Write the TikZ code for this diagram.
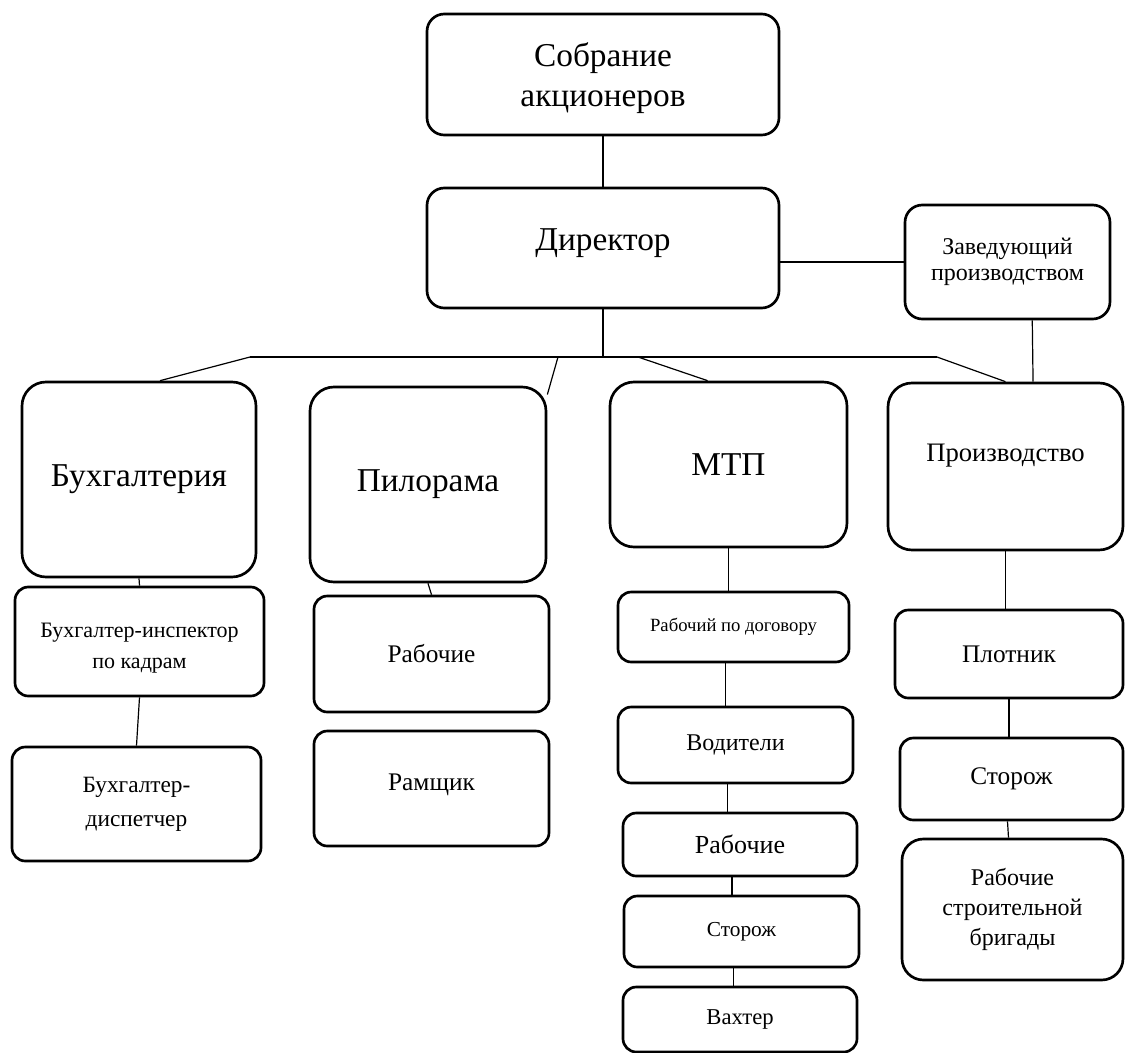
\documentclass[tikz,border=0pt]{standalone}
\usepackage{fontspec}
\setmainfont{Liberation Serif}
\usepackage{tikz}
\tikzset{
  unit/.style={draw, line width=2pt, rounded corners=10pt, inner sep=2pt, align=center},
  link/.style={line width=0.9pt}
}
\newcommand{\fsz}[2]{\fontsize{#1}{#2}\selectfont}
\newcommand{\unitbox}[7]{\node[unit, #6, minimum width={(#4-#2)*0.75pt}, minimum height={(#5-#3)*0.75pt}] (#1) at ( {(#2+#4)/2} , {(#3+#5)/2} ) {#7};}

\begin{document}
\begin{tikzpicture}[x=0.75pt, y=-0.75pt]
        \fill[white] (0,0) rectangle (1125,1053);
        \useasboundingbox (0,0) rectangle (1125,1053);

        % top
        \unitbox{sob}{427}{14}{779}{135}{font=\fsz{25}{30}, rounded corners=13pt, text depth=0pt}{Собрание\\акционеров}
        \unitbox{dir}{427}{188}{779}{308}{font=\fsz{25}{30}, rounded corners=13pt, text depth=12pt}{Директор}
        \unitbox{zav}{905}{205}{1110}{319}{font=\fsz{18}{19.5}, rounded corners=13pt}{Заведующий\\производством}

        % departments
        \unitbox{buh}{22}{382}{256}{577}{font=\fsz{25}{30}, rounded corners=18pt}{Бухгалтерия}
        \unitbox{pil}{310}{387}{546}{582}{font=\fsz{25}{30}, rounded corners=18pt}{Пилорама}
        \unitbox{mtp}{610}{382}{847}{547}{font=\fsz{25}{30}, rounded corners=18pt}{МТП}
        \unitbox{prod}{888}{383}{1123}{550}{font=\fsz{20}{24}, rounded corners=18pt, text depth=21pt}{Производство}

        % staff
        \unitbox{insp}{15}{587}{264}{696}{font=\fsz{16.5}{23}, text height=44pt}{Бухгалтер-инспектор\\по кадрам}
        \unitbox{disp}{12}{747}{261}{861}{font=\fsz{17.5}{25.5}}{Бухгалтер-\\диспетчер}

        \unitbox{pwork}{314}{596}{549}{712}{font=\fsz{19}{23}}{Рабочие}
        \unitbox{ram}{314}{731}{549}{846}{font=\fsz{19}{23}, text depth=9.5pt}{Рамщик}

        \unitbox{contr}{618}{592}{849}{662}{font=\fsz{14}{17}}{Рабочий по договору}
        \unitbox{driv}{618}{707}{853}{783}{font=\fsz{18}{22}}{Водители}
        \unitbox{mwork}{623}{813}{857}{876}{font=\fsz{19.5}{23}}{Рабочие}
        \unitbox{mguard}{624}{896}{859}{967}{font=\fsz{16}{20}}{Сторож}
        \unitbox{vaht}{623}{987}{857}{1052}{font=\fsz{17}{21}}{Вахтер}

        \unitbox{plot}{895}{610}{1123}{698}{font=\fsz{19}{23}}{Плотник}
        \unitbox{pguard}{900}{738}{1123}{820}{font=\fsz{19}{23}}{Сторож}
        \unitbox{brig}{902}{839}{1123}{980}{font=\fsz{18}{22.5}, rounded corners=16pt}{Рабочие\\строительной\\бригады}

        % bus line under the director
        \coordinate (busL) at (250,357);
        \coordinate (busP) at (558,357);
        \coordinate (busM) at (638,357);
        \coordinate (busR) at (937,357);
        \draw[link] (busL) -- (busR);
        \draw[link] (dir.south) -- (dir.south |- busL);
        \draw[link] (busL) -- (buh.78);
        \draw[link] (busP) -- (pil.37);
        \draw[link] (busM) -- (mtp.104);
        \draw[link] (busR) -- (prod.north);

        \draw[link] (sob.south) -- (dir.north);
        \draw[link] (dir.east |- zav.west) -- (zav.west);
        \draw[link] (zav.-67) -- (prod.72);

        % columns
        \draw[link] (buh.south) -- (insp.north);
        \draw[link] (insp.south) -- (disp.north);
        \draw[link] (pil.south) -- (pwork.north);
        \draw[link] (mtp.south) -- (mtp.south |- contr.north);
        \draw[link] ([xshift=-6pt]contr.south) -- ([xshift=-6pt]contr.south |- driv.north);
        \draw[link] ([xshift=-6pt]driv.south) -- ([xshift=-6pt]driv.south |- mwork.north);
        \draw[link] ([xshift=-6pt]mwork.south) -- ([xshift=-6pt]mwork.south |- mguard.north);
        \draw[link] ([xshift=-6pt]mguard.south) -- ([xshift=-6pt]mguard.south |- vaht.north);
        \draw[link] (prod.south) -- (prod.south |- plot.north);
        \draw[link] (plot.south) -- (plot.south |- pguard.north);
        \draw[link] ([xshift=-3pt]pguard.south) -- ([xshift=-3pt]brig.north);
    \end{tikzpicture}
\end{document}
